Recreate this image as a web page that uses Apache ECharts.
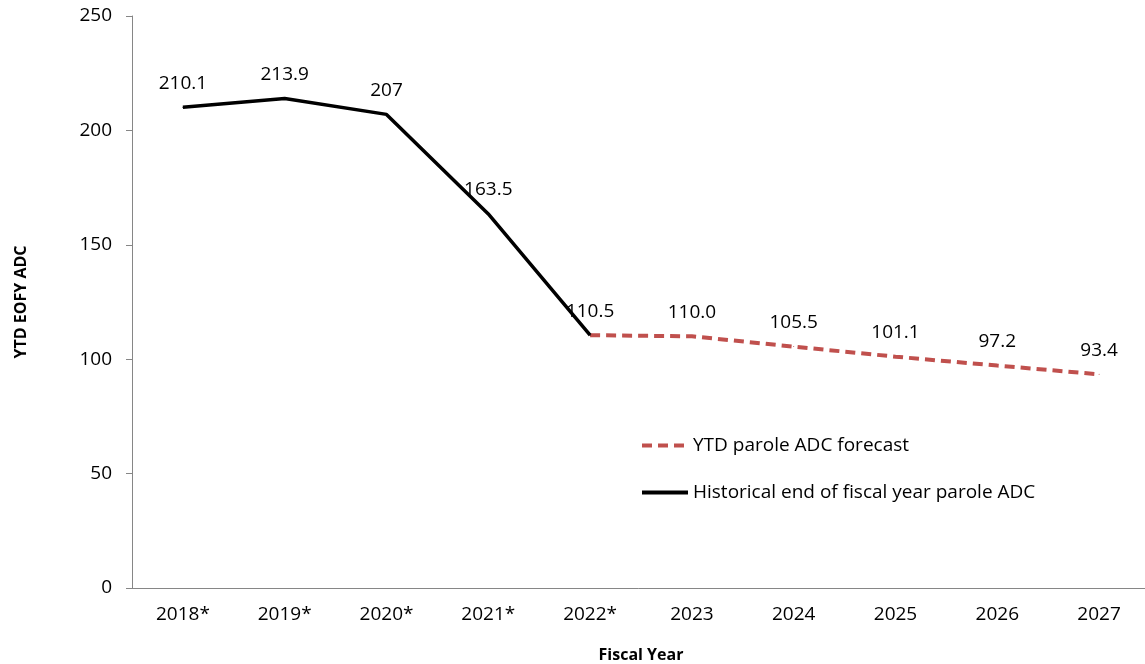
<!DOCTYPE html>
<html>
<head>
<meta charset="utf-8">
<script src="https://cdn.jsdelivr.net/npm/echarts@6/dist/echarts.min.js"></script>
<style>
  html, body { margin: 0; padding: 0; background: #fff; }
  #chart { width: 1145px; height: 664px; }
</style>
</head>
<body>
<div id="chart"></div>
<script>
  // 数据
  var years = ['2018*', '2019*', '2020*', '2021*', '2022*', '2023', '2024', '2025', '2026', '2027']
  var historical = [210.1, 213.9, 207, 163.5, 110.5, null, null, null, null, null]
  var forecast = [null, null, null, null, 110.5, 110.0, 105.5, 101.1, 97.2, 93.4]
  var yTicks = [0, 50, 100, 150, 200, 250]

  var font = '"Open Sans", "Noto Sans", sans-serif'
  var chart = echarts.init(document.getElementById('chart'))
  var option = {
    animation: false,
    textStyle: { fontFamily: font },
    grid: { left: 132, top: 16, width: 1018, bottom: 76, containLabel: false, outerBoundsMode: 'none' },
    legend: {
      orient: 'vertical',
      left: 635,
      top: 431,
      itemWidth: 46,
      itemHeight: 14,
      itemGap: 28,
      itemStyle: { opacity: 0 },
      lineStyle: { width: 4 },
      textStyle: { fontSize: 19, color: '#000', fontFamily: font },
      data: ['YTD parole ADC forecast', 'Historical end of fiscal year parole ADC']
    },
    xAxis: {
      type: 'category',
      data: years,
      name: 'Fiscal Year',
      nameLocation: 'middle',
      nameGap: 59,
      nameTextStyle: { fontWeight: 'bold', fontSize: 16, color: '#000', fontFamily: font },
      axisLine: { lineStyle: { color: '#868686', width: 1 } },
      axisTick: { length: 6, lineStyle: { color: '#868686' } },
      axisLabel: { fontSize: 19, color: '#000', margin: 17 }
    },
    yAxis: {
      type: 'value',
      min: yTicks[0],
      max: yTicks[yTicks.length - 1],
      interval: 50,
      name: 'YTD EOFY ADC',
      nameLocation: 'middle',
      nameGap: 103,
      nameTextStyle: { fontWeight: 'bold', fontSize: 16, color: '#000', fontFamily: font },
      axisLine: { show: true, lineStyle: { color: '#868686', width: 1 } },
      axisTick: { show: true, length: 6, lineStyle: { color: '#868686' } },
      splitLine: { show: false },
      axisLabel: { fontSize: 19, color: '#000', margin: 20 }
    },
    series: [
      {
        name: 'YTD parole ADC forecast',
        type: 'line',
        data: forecast,
        symbol: 'circle',
        symbolSize: 1,
        showSymbol: true,
        lineStyle: { color: '#C0504D', width: 4, type: [10, 6] },
        itemStyle: { color: '#C0504D' },
        label: {
          show: true,
          position: 'top',
          distance: 14,
          fontSize: 19,
          color: '#000',
          formatter: function (p) { return p.dataIndex > 4 ? p.value.toFixed(1) : '' }
        },
        labelLayout: { hideOverlap: false },
        z: 2
      },
      {
        name: 'Historical end of fiscal year parole ADC',
        type: 'line',
        data: historical,
        symbol: 'circle',
        symbolSize: 1,
        showSymbol: true,
        lineStyle: { color: '#000', width: 3.5 },
        itemStyle: { color: '#000' },
        label: {
          show: true,
          position: 'top',
          distance: 14,
          fontSize: 19,
          color: '#000'
        },
        labelLayout: { hideOverlap: false },
        z: 3
      }
    ]
  }
  chart.setOption(option)
</script>
</body>
</html>
